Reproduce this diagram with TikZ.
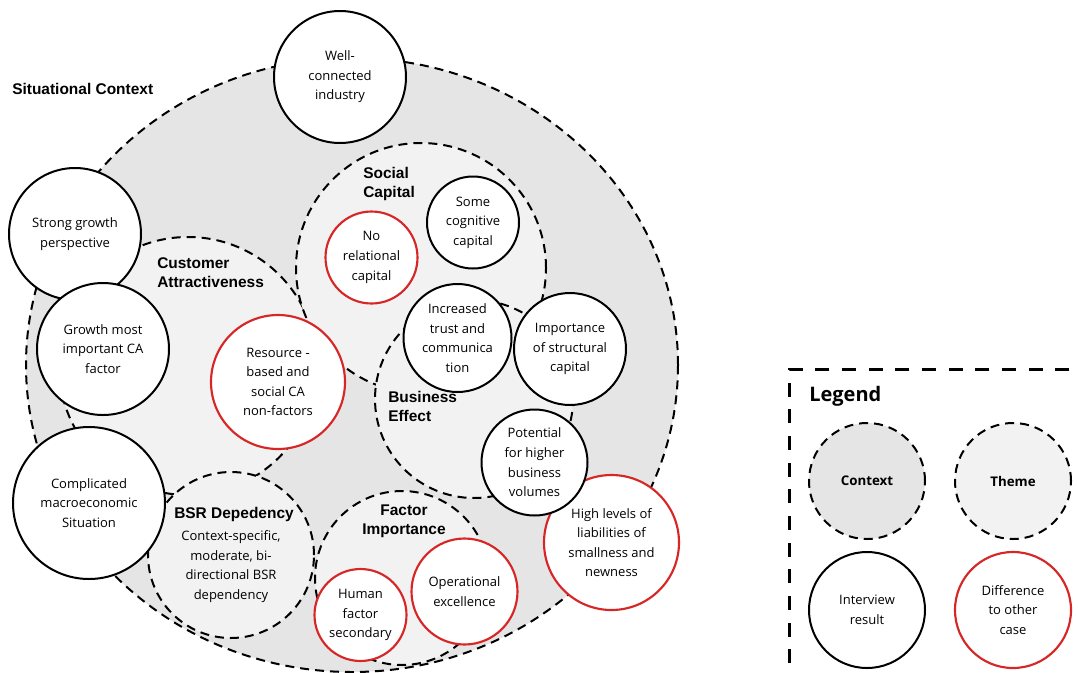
\documentclass[tikz,border=0pt]{standalone}
\usepackage{fontspec}
\setmainfont{Open Sans}
\newfontfamily\headfont{Liberation Sans}
\usetikzlibrary{shapes.geometric}

\definecolor{ctxgray}{RGB}{229,229,229}
\definecolor{themegray}{RGB}{243,242,243}
\definecolor{diffred}{RGB}{214,38,38}

\newcommand\txtfont{\fontsize{9.75pt}{14.7pt}\selectfont}
\newcommand\labfont{\headfont\bfseries\fontsize{11.6pt}{13.9pt}\selectfont}
\newcommand\legboldfont{\bfseries\fontsize{10pt}{14pt}\selectfont}
\newcommand\legtitlefont{\bfseries\fontsize{15pt}{18pt}\selectfont}

\tikzset{
  dashline/.style={line width=1.5pt, dash pattern=on 6.75pt off 4.5pt},
  contextarea/.style={ellipse, draw, fill=ctxgray, dashline, inner sep=0pt},
  themearea/.style={circle, draw, fill=themegray, dashline, inner sep=0pt, minimum size=#1*1.5pt},
  contextcircle/.style={circle, draw, fill=ctxgray, dashline, inner sep=0pt, minimum size=#1*1.5pt, font=\legboldfont},
  themecircle/.style={themearea=#1, font=\legboldfont},
  result/.style={circle, draw, fill=white, line width=1.5pt, inner sep=0pt,
    minimum size=#1*1.5pt, align=center, font=\txtfont},
  diff/.style={result=#1, draw=diffred, line width=1.6pt},
  themelabel/.style={inner sep=0pt, align=left, anchor=west, font=\labfont},
  legendframe/.style={draw, line width=2.2pt, dash pattern=on 10.5pt off 9.5pt}
}

\begin{document}
\begin{tikzpicture}[x=0.75pt, y=-0.75pt]
\useasboundingbox (0,0) rectangle (1078,672);

% situational context
\node[contextarea, minimum width=652*0.75pt, minimum height=614*0.75pt] (context) at (352,365) {};
\node[themelabel] (contextlabel) at (12,89) {Situational Context};

% themes
\node[themearea=129] (ca) at (188,366) {};
\node[themearea=125] (sc) at (421,268) {};
\node[themearea=99] (be) at (474,399) {};
\node[themearea=83] (bsr) at (231,555) {};
\node[themearea=87] (fi) at (402,578) {};

\node[themelabel] (calabel) at (157,272.5) {Customer\\Attractiveness};
\node[themelabel] (sclabel) at (363,184) {Social\\Capital};
\node[themelabel] (belabel) at (388,406.5) {Business\\Effect};
\node[inner sep=0pt, font=\labfont] (bsrlabel) at (234,514) {BSR Depedency};
\node[inner sep=0pt, align=center, font=\labfont] (filabel) at (404,521.5) {Factor\\Importance};
\node[inner sep=0pt, align=center, font=\txtfont] (bsrtext) at (231,566.5)
  {Context-specific,\\moderate, bi-\\directional BSR\\dependency};

% interview results
\node[result=66] (industry) at (340,77) {Well-\\connected\\industry};
\node[result=66] (growth) at (75,234) {Strong growth\\perspective};
\node[result=66] (growthca) at (103,349) {Growth most\\important CA\\factor};
\node[result=76] (macro) at (89,503) {Complicated\\macroeconomic\\Situation};
\node[diff=67] (resource) at (278,382) {Resource -\\based and\\social CA\\non-factors};
\node[diff=46] (relational) at (371.5,257.5) {No\\relational\\capital};
\node[result=46] (cognitive) at (473,222.5) {Some\\cognitive\\capital};
\node[result=54] (trust) at (457.5,338) {Increased\\trust and\\communica\\tion};
\node[result=56] (structural) at (570,349) {Importance\\of structural\\capital};
\node[diff=67.5] (liabilities) at (611.5,542.5) {High levels of\\liabilities of\\smallness and\\newness};
\node[result=53] (volumes) at (534.5,462.5) {Potential\\for higher\\business\\volumes};
\node[diff=46] (human) at (360.5,615) {Human\\factor\\secondary};
\node[diff=53] (operational) at (464.5,591.5) {Operational\\excellence};

% legend
\node[legendframe, anchor=north west, minimum width=330*0.75pt, minimum height=340*0.75pt, inner sep=0pt] (legend) at (788,368) {};
\node[inner sep=0pt, anchor=west, font=\legtitlefont] (legendtitle) at (809,396) {Legend};
\node[contextcircle=58] (legcontext) at (867,481) {Context};
\node[themecircle=58] (legtheme) at (1013,481) {Theme};
\node[result=58] (legresult) at (867,610) {Interview\\result};
\node[diff=58] (legdiff) at (1013,610) {Difference\\to other\\case};
\end{tikzpicture}
\end{document}
